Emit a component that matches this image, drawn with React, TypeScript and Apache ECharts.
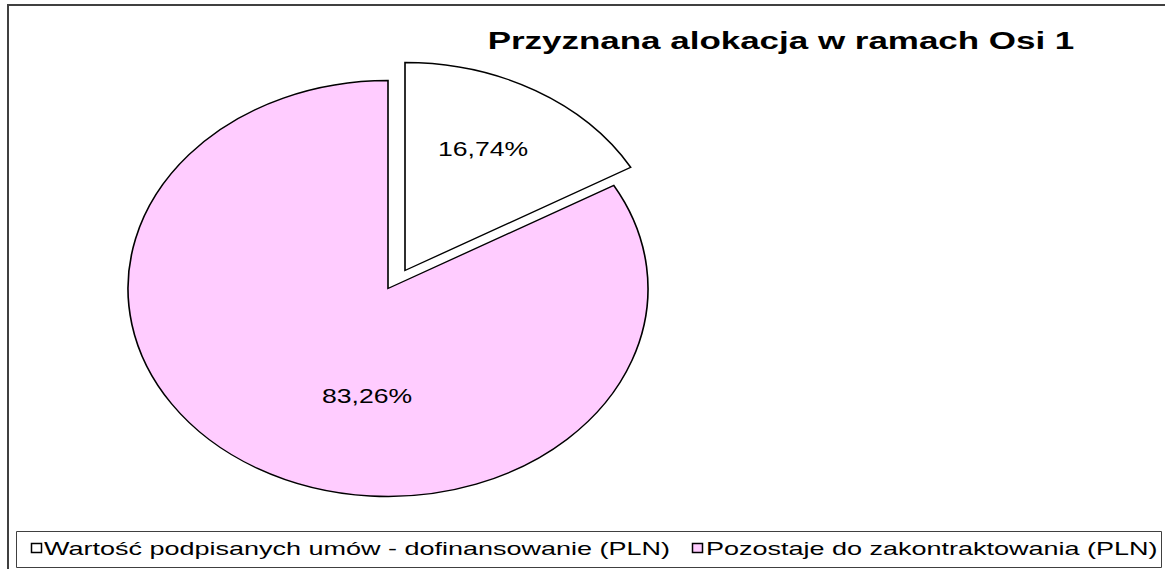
import React, { useEffect, useRef } from "react";
import * as echarts from "echarts";

// ---- data ----
const categories = [
  "Wartość podpisanych umów - dofinansowanie (PLN)",
  "Pozostaje do zakontraktowania (PLN)",
];
const values = [16.74, 83.26];
const titleText = "Przyznana alokacja w ramach Osi 1";

// ---- styles ----
const colors = ["#FFFFFF", "#FFCCFF"];
const explodeOffsets = [
  [17, -18],
  [0, 0],
];
const labelOffsets = [
  [78, -121],
  [-21, 108],
];
const FONT = "'Liberation Sans', Arial, sans-serif";
const CX = 388;
const CY = 288.5;
const RX = 260;
const RY = 208;

const fmtPct = (v: number) => v.toFixed(2).replace(".", ",") + "%";

export default function App() {
  const ref = useRef<HTMLDivElement>(null);
  useEffect(() => {
    document.body.style.margin = "0";
    if (!ref.current) return;
    const chart = echarts.init(ref.current, null, { renderer: "svg" });
    const total = values.reduce((a, b) => a + b, 0);
    const starts: number[] = [];
    let acc = 0;
    values.forEach((v) => {
      starts.push(acc);
      acc += v;
    });

    const legendY = 548.5;
    const legendItems = [
      { mx: 31, tx: 44 },
      { mx: 692, tx: 706 },
    ];

    const option: any = {
      animation: false,
      backgroundColor: "#ffffff",
      series: [
        {
          type: "custom",
          coordinateSystem: "none",
          data: values.map((v, i) => ({ name: categories[i], value: v })),
          renderItem: (params: any, api: any) => {
            const i = params.dataIndex;
            const v = api.value(0);
            const startAngle = -Math.PI / 2 + (starts[i] / total) * Math.PI * 2;
            const endAngle = startAngle + (v / total) * Math.PI * 2;
            const off = explodeOffsets[i];
            const lo = labelOffsets[i];
            return {
              type: "group",
              x: CX + off[0],
              y: CY + off[1],
              children: [
                {
                  type: "sector",
                  scaleX: RX / RY,
                  shape: { cx: 0, cy: 0, r0: 0, r: RY, startAngle, endAngle, clockwise: true },
                  style: {
                    fill: colors[i],
                    stroke: "#000000",
                    lineWidth: 1.3,
                    strokeNoScale: true,
                  },
                },
                {
                  type: "text",
                  x: lo[0],
                  y: lo[1],
                  scaleX: 1.33,
                  style: {
                    text: fmtPct(v),
                    x: 0,
                    y: 0,
                    fontSize: 20,
                    fontFamily: FONT,
                    fill: "#000000",
                    align: "center",
                    verticalAlign: "middle",
                  },
                },
              ],
            };
          },
        },
      ],
      graphic: [
        {
          type: "rect",
          shape: { x: 8, y: 5, width: 1200, height: 620 },
          style: { fill: "none", stroke: "#404040", lineWidth: 2 },
          silent: true,
          z: 10,
        },
        {
          type: "text",
          x: 781,
          y: 41,
          scaleX: 1.52,
          style: {
            text: titleText,
            x: 0,
            y: 0,
            fontSize: 23,
            fontWeight: "bold",
            fontFamily: FONT,
            fill: "#000000",
            align: "center",
            verticalAlign: "middle",
          },
        },
        {
          type: "rect",
          shape: { x: 16.5, y: 531.5, width: 1145, height: 36 },
          style: { fill: "#ffffff", stroke: "#404040", lineWidth: 1 },
          z: 5,
        },
        ...legendItems.flatMap((it, i) => [
          {
            type: "rect",
            shape: { x: it.mx + 0.5, y: 543.5, width: 10, height: 9 },
            style: { fill: colors[i], stroke: "#000000", lineWidth: 1.5 },
            z: 6,
          },
          {
            type: "text",
            x: it.tx,
            y: legendY,
            scaleX: 1.5,
            z: 6,
            style: {
              text: categories[i],
              x: 0,
              y: 0,
              fontSize: 18,
              fontFamily: FONT,
              fill: "#000000",
              align: "left",
              verticalAlign: "middle",
            },
          },
        ]),
      ],
    };
    chart.setOption(option);
    return () => chart.dispose();
  }, []);
  return <div ref={ref} style={{ width: 1165, height: 569 }} />;
}
